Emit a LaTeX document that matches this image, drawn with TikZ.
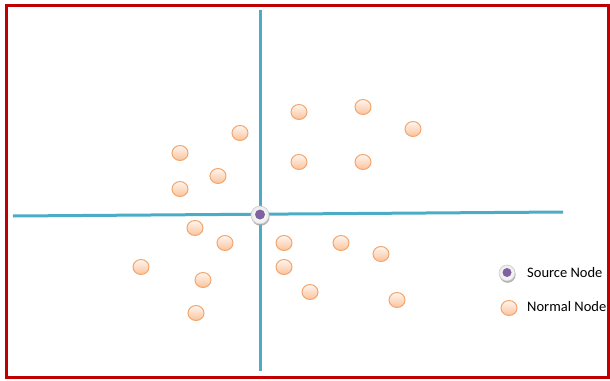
\documentclass[tikz,border=0pt]{standalone}
\usepackage{fontspec}
\setmainfont{Carlito}
\usetikzlibrary{shadows,shapes.geometric}
\definecolor{frame}{HTML}{C00000}
\definecolor{axis}{HTML}{4BACC6}
\definecolor{peachedge}{HTML}{F2A66F}
\definecolor{peachout}{HTML}{FAC29A}
\definecolor{peachin}{HTML}{FFF6F0}
\definecolor{srcpurple}{HTML}{7F63A1}
\tikzset{
  normal/.style={ellipse, minimum width=16pt, minimum height=15pt, inner sep=0pt, draw=peachedge, line width=1pt,
    top color=peachin, bottom color=peachout},
  source/.style={circle, minimum size=18pt, inner sep=0pt, draw=gray!40, line width=0.6pt,
    shading=radial, inner color=white, outer color=gray!15,
    drop shadow={shadow xshift=0.6pt, shadow yshift=-1.8pt, fill=gray!75, opacity=0.8}},
  srcdot/.style={circle, minimum size=10pt, inner sep=0pt, fill=srcpurple},
  axisline/.style={draw=axis, line width=3pt},
  legend/.style={anchor=west, font=\fontsize{14.5}{17}\selectfont, inner sep=0pt}
}
\begin{document}
\begin{tikzpicture}[x=1pt,y=-1pt]
\useasboundingbox (0,0) rectangle (610,380);
\draw[frame, line width=3pt] (6,5) rectangle (608.5,377);
% axes
\coordinate (vt) at (260,10);
\coordinate (vb) at (260,371);
\coordinate (hl) at (13,216);
\coordinate (hr) at (563,212);
\draw[axisline] (vt) -- (vb);
\draw[axisline] (hl) -- (hr);
% source node
\node[source] (src) at (260,215) {};
\node[srcdot] (srcin) at (260,214.5) {};
% normal nodes
\foreach \i/\x/\y in {1/240/133, 2/299/112, 3/363/107, 4/413/129, 5/180/153, 6/218/176,
  7/180/189, 8/299/162, 9/363/162, 10/195/228, 11/225/243, 12/284/243, 13/341/243,
  14/381/254, 15/141/267, 16/203/280, 17/284/267, 18/310/292, 19/397/300, 20/196/313}
  \node[normal] (n\i) at (\x,\y) {};
% legend
\node[source, minimum size=16pt] (lsrc) at (507,273) {};
\node[srcdot, minimum size=9pt] (lsrcin) at (507,272.5) {};
\node[legend] (lsrct) at (527,273) {Source Node};
\node[normal] (lnorm) at (509,308) {};
\node[legend] (lnormt) at (527,307) {Normal Node};
\end{tikzpicture}
\end{document}
